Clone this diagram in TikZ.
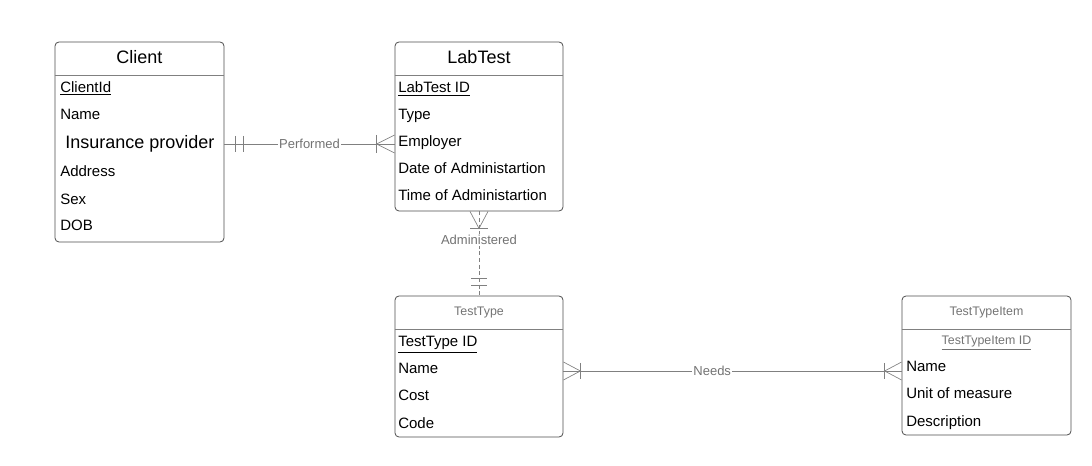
\documentclass[tikz,border=0pt]{standalone}
\usepackage{fontspec}
\setmainfont{Liberation Sans}
\usetikzlibrary{calc}
\definecolor{linegray}{rgb}{0.5,0.5,0.5}
\definecolor{textgray}{rgb}{0.45,0.45,0.45}
\definecolor{boxgray}{rgb}{0.3,0.3,0.3}

\begin{document}
\begin{tikzpicture}[x=0.75pt, y=-0.75pt,
    entity/.style={draw=boxgray, rounded corners=3pt, inner sep=0pt, line width=0.6pt},
    title/.style={inner sep=0pt, text height=9.7pt, text depth=0pt, font=\fontsize{13.5}{16}\selectfont},
    subtitle/.style={inner sep=0pt, text height=6.7pt, text depth=0pt, text=textgray, font=\fontsize{9.3}{11}\selectfont},
    attr/.style={anchor=west, inner sep=0pt, text height=8.05pt, text depth=0pt, font=\fontsize{11.25}{13}\selectfont},
    relline/.style={draw=linegray, line width=0.5pt},
    rellabel/.style={fill=white, inner sep=1pt, text=textgray, font=\fontsize{9.75}{12}\selectfont}]

    \useasboundingbox (0,0) rectangle (1092,466);

    % Entities
    \node[entity, minimum width=126.75pt, minimum height=150pt] (client) at (139.5,142) {};
    \node[entity, minimum width=126pt, minimum height=126.75pt] (labtest) at (479,126.5) {};
    \node[entity, minimum width=126pt, minimum height=105.75pt] (testtype) at (479,366.5) {};
    \node[entity, minimum width=126.75pt, minimum height=104.25pt] (testtypeitem) at (986.5,365.5) {};

    % Header lines
    \draw[linegray] (client.west |- 0,75) -- (client.east |- 0,75);
    \draw[linegray] (labtest.west |- 0,75) -- (labtest.east |- 0,75);
    \draw[linegray] (testtype.west |- 0,329) -- (testtype.east |- 0,329);
    \draw[linegray] (testtypeitem.west |- 0,329) -- (testtypeitem.east |- 0,329);

    % Titles
    \node[title] (client-title) at (139.5,57) {Client};
    \node[title] (labtest-title) at (479,57) {LabTest};
    \node[subtitle] (testtype-title) at (479,311.5) {TestType};
    \node[subtitle] (testtypeitem-title) at (986.5,311) {TestTypeItem};

    % Client attributes
    \node[attr] (client-key) at (60,87) {\underline{ClientId}};
    \node[attr, text height=9.7pt, font=\fontsize{13.5}{16}\selectfont] (client-ins) at (65,142.5) {Insurance provider};
    \foreach \y/\t [count=\i] in {114/Name, 171.5/Address, 199/Sex, 225.5/DOB} {
        \node[attr] (client-\i) at (60,\y) {\t};
    }

    % LabTest attributes
    \node[attr] (labtest-key) at (398,87.5) {\underline{LabTest ID}};
    \foreach \y/\t [count=\i] in {114/Type, 141/Employer, 168/Date of Administartion, 195/Time of Administartion} {
        \node[attr] (labtest-\i) at (398,\y) {\t};
    }

    % TestType attributes
    \node[attr] (testtype-key) at (398,341.5) {\underline{TestType ID}};
    \foreach \y/\t [count=\i] in {368/Name, 395/Cost, 423/Code} {
        \node[attr] (testtype-\i) at (398,\y) {\t};
    }

    % TestTypeItem attributes
    \node[subtitle] (testtypeitem-key) at (986.5,340) {\underline{TestTypeItem ID}};
    \foreach \y/\t [count=\i] in {366/Name, 393/Unit of measure, 421/Description} {
        \node[attr] (testtypeitem-\i) at (906,\y) {\t};
    }

    % Performed
    \coordinate (perfA) at (client.east |- 0,144);
    \coordinate (perfB) at (labtest.west |- 0,144);
    \draw[relline] (perfA) -- node[rellabel] (perf-label) {Performed} (perfB);
    \draw[relline] ($(perfA)+(11,-8)$) -- ($(perfA)+(11,8)$);
    \draw[relline] ($(perfA)+(19,-8)$) -- ($(perfA)+(19,8)$);
    \draw[relline] ($(perfB)+(0,-9)$) -- ($(perfB)+(-18,0)$) -- ($(perfB)+(0,9)$);
    \draw[relline] ($(perfB)+(-18,-9)$) -- ($(perfB)+(-18,9)$);

    % Administered
    \coordinate (admA) at (labtest.south);
    \coordinate (admB) at (testtype.north);
    \draw[relline, dash pattern=on 3pt off 2pt] (admA) -- node[rellabel, pos=0.34] (adm-label) {Administered} (admB);
    \draw[relline] ($(admA)+(-9,0)$) -- ($(admA)+(0,17)$) -- ($(admA)+(9,0)$);
    \draw[relline] ($(admA)+(-9,17)$) -- ($(admA)+(9,17)$);
    \draw[relline] ($(admB)+(-8,-17)$) -- ($(admB)+(8,-17)$);
    \draw[relline] ($(admB)+(-8,-10)$) -- ($(admB)+(8,-10)$);

    % Needs
    \coordinate (needA) at (testtype.east |- 0,371);
    \coordinate (needB) at (testtypeitem.west |- 0,371);
    \draw[relline] (needA) -- node[rellabel, pos=0.44] (need-label) {Needs} (needB);
    \draw[relline] ($(needA)+(0,-9)$) -- ($(needA)+(17,0)$) -- ($(needA)+(0,9)$);
    \draw[relline] ($(needA)+(17,-8)$) -- ($(needA)+(17,8)$);
    \draw[relline] ($(needB)+(0,-9)$) -- ($(needB)+(-17,0)$) -- ($(needB)+(0,9)$);
    \draw[relline] ($(needB)+(-17,-8)$) -- ($(needB)+(-17,8)$);
\end{tikzpicture}
\end{document}
